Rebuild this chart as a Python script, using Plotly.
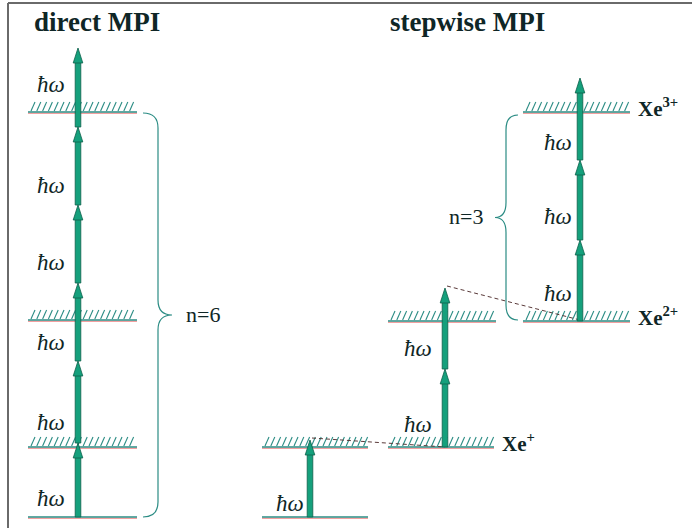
import plotly.graph_objects as go

# ---------------- data (diagram units, y grows downward) ----------------
titles = ["direct MPI", "stepwise MPI"]
title_x = [97, 467]

# direct MPI
direct_levels_y = [517, 447, 320, 112]
direct_levels_hatched = [False, True, True, True]
direct_level_x = (28, 137)
direct_arrow_x = 78
direct_arrow_start = 517
direct_photon_tips = [443, 361, 283, 205, 127, 48]
direct_hw_y = [498, 422, 342, 262, 185, 84]
direct_hw_x = 51

# stepwise MPI: levels (x0, x1, y, hatched, label)
step_levels = [
    (262, 368, 517, False, ""),
    (262, 368, 447, True, ""),
    (388, 494, 447, True, "Xe<sup>+</sup>"),
    (388, 496, 321, True, ""),
    (523, 630, 321, True, "Xe<sup>2+</sup>"),
    (523, 630, 112, True, "Xe<sup>3+</sup>"),
]
# arrows: x, start, photon tips
step_arrows = [
    (310, 517, [440]),
    (445, 447, [369, 288]),
    (580, 321, [240, 160, 78]),
]
step_hw = [(290, 503), (418, 424), (418, 348), (558, 293), (558, 216), (558, 142)]
dashed_links = [((312, 438), (445, 447)), ((447, 286), (580, 320))]

# braces: (x_end, x_spine, x_tip, y_top, y_bottom, label, label_x)
braces = [
    (143, 158, 172, 113, 517, "n=6", 203),
    (518, 506, 495, 115, 320, "n=3", 466),
]

# ---------------- styling ----------------
W, H = 692, 528
ARROW_FILL = "#15a07c"
ARROW_EDGE = "#0c5f4a"
LEVEL_COL = "#2b8c84"
SHADOW_COL = "#f2a0a0"
TEXT_COL = "#0f2626"
SERIF = "Liberation Serif, Times New Roman, serif"

fig = go.Figure()
shapes = []
annotations = []


def add_level(x0, x1, y, hatched):
    fig.add_trace(go.Scatter(x=[x0, x1], y=[y + 1.3, y + 1.3], mode="lines",
                             line=dict(color=SHADOW_COL, width=1.2), hoverinfo="skip"))
    fig.add_trace(go.Scatter(x=[x0, x1], y=[y, y], mode="lines",
                             line=dict(color=LEVEL_COL, width=1.4), hoverinfo="skip"))
    if hatched:
        xs, ys = [], []
        x = x0 + 3
        while x + 4 <= x1:
            xs += [x, x + 4, None]
            ys += [y - 1, y - 10, None]
            x += 5.8
        fig.add_trace(go.Scatter(x=xs, y=ys, mode="lines",
                                 line=dict(color=LEVEL_COL, width=1.1), hoverinfo="skip"))


def add_arrow(x, start, tips):
    head_h, head_w = 15, 4.8
    prev = start
    for tip in tips:
        base = tip + head_h
        shapes.append(dict(type="rect", xref="x", yref="y",
                           x0=x - 2.8, x1=x + 2.8, y0=base - 1, y1=prev,
                           fillcolor=ARROW_FILL, line=dict(color=ARROW_EDGE, width=0.8)))
        shapes.append(dict(type="path", xref="x", yref="y",
                           path=f"M {x - head_w} {base} L {x} {tip} L {x + head_w} {base} Z",
                           fillcolor=ARROW_FILL, line=dict(color=ARROW_EDGE, width=0.8)))
        prev = tip


def add_hw(x, y):
    annotations.append(dict(x=x, y=y, xref="x", yref="y", text="<i>ħω</i>",
                            showarrow=False, font=dict(family=SERIF, size=23, color=TEXT_COL)))


# direct MPI
for y, h in zip(direct_levels_y, direct_levels_hatched):
    add_level(direct_level_x[0], direct_level_x[1], y, h)
add_arrow(direct_arrow_x, direct_arrow_start, direct_photon_tips)
for y in direct_hw_y:
    add_hw(direct_hw_x, y)

# stepwise MPI
for x0, x1, y, h, lab in step_levels:
    add_level(x0, x1, y, h)
    if lab:
        annotations.append(dict(x=x1 + 6, y=y - 5, xref="x", yref="y", text="<b>" + lab + "</b>",
                                showarrow=False, xanchor="left",
                                font=dict(family=SERIF, size=21, color=TEXT_COL)))
for x, s, tips in step_arrows:
    add_arrow(x, s, tips)
for x, y in step_hw:
    add_hw(x, y)
for (xa, ya), (xb, yb) in dashed_links:
    fig.add_trace(go.Scatter(x=[xa, xb], y=[ya, yb], mode="lines",
                             line=dict(color="#5a3a3a", width=1, dash="4px,3px"), hoverinfo="skip"))

# braces
for xe, xs, xt, yt, yb, lab, lx in braces:
    ym = (yt + yb) / 2
    r = 15
    d = (f"M {xe} {yt} Q {xs} {yt} {xs} {yt + r} L {xs} {ym - r} "
         f"Q {xs} {ym} {xt} {ym} Q {xs} {ym} {xs} {ym + r} L {xs} {yb - r} "
         f"Q {xs} {yb} {xe} {yb}")
    shapes.append(dict(type="path", xref="x", yref="y", path=d,
                       line=dict(color=LEVEL_COL, width=1.2)))
    annotations.append(dict(x=lx, y=ym - 1, xref="x", yref="y", text=lab, showarrow=False,
                            font=dict(family=SERIF, size=22, color=TEXT_COL)))

# titles
for t, tx in zip(titles, title_x):
    annotations.append(dict(x=tx, y=22, xref="x", yref="y", text="<b>" + t + "</b>",
                            showarrow=False, font=dict(family=SERIF, size=27, color=TEXT_COL)))

# frame (top and left)
shapes.append(dict(type="line", xref="x", yref="y", x0=8, x1=W, y0=3, y1=3,
                   line=dict(color="#6a6a6a", width=2)))
shapes.append(dict(type="line", xref="x", yref="y", x0=8, x1=8, y0=3, y1=H,
                   line=dict(color="#6a6a6a", width=2)))

fig.update_layout(
    width=W, height=H, margin=dict(l=0, r=0, t=0, b=0),
    paper_bgcolor="white", plot_bgcolor="white", showlegend=False,
    shapes=shapes, annotations=annotations,
    xaxis=dict(range=[0, W], visible=False, fixedrange=True),
    yaxis=dict(range=[H, 0], visible=False, fixedrange=True),
)
fig.write_html("out.html", config={"displayModeBar": False},
               post_script="document.body.style.margin='0';document.body.style.overflow='hidden';")
